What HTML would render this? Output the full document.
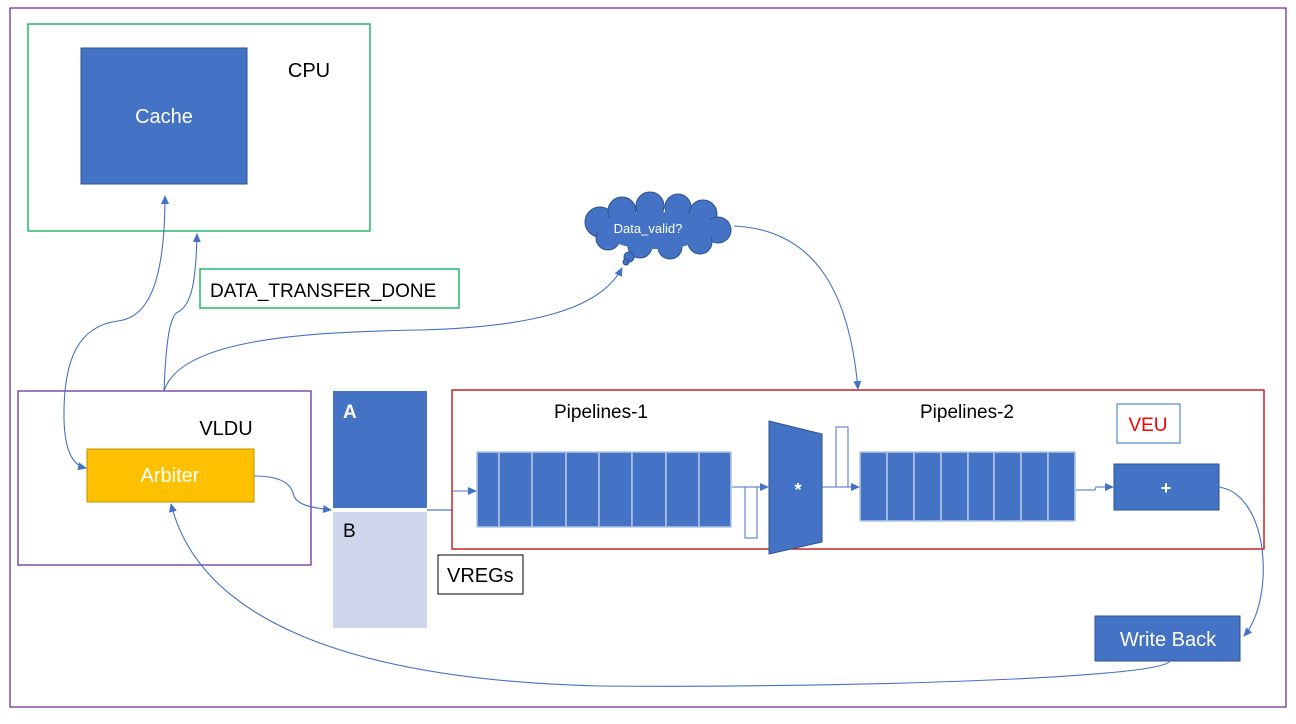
<!DOCTYPE html>
<html><head><meta charset="utf-8"><style>
html,body{margin:0;padding:0;background:#fff;width:1296px;height:724px;overflow:hidden}
svg text{font-family:"Liberation Sans",sans-serif}
</style></head><body>
<svg width="1296" height="724" viewBox="0 0 1296 724" xmlns="http://www.w3.org/2000/svg">
<defs>
<marker id="ar" markerWidth="10" markerHeight="10" refX="8" refY="4" orient="auto-start-reverse" markerUnits="userSpaceOnUse">
<path d="M0,0 L9,4 L0,8 z" fill="#4472c4"/></marker>
</defs>
<rect x="10" y="8" width="1276" height="699" fill="none" stroke="#7030a0" stroke-width="1.3"/>
<!-- CPU -->
<rect x="28" y="24" width="342" height="207" fill="none" stroke="#00b050" stroke-width="1.3"/>
<rect x="81" y="48" width="166" height="136" fill="#4472c4" stroke="#2f528f"/>
<text x="164" y="123" font-size="20" fill="#fff" text-anchor="middle">Cache</text>
<text x="309" y="77" font-size="20" fill="#000" text-anchor="middle">CPU</text>
<rect x="200" y="269" width="259" height="39" fill="none" stroke="#00b050" stroke-width="1.3"/>
<text x="210" y="297" font-size="19" fill="#000">DATA_TRANSFER_DONE</text>
<!-- cloud -->
<g fill="#4472c4" stroke="#2f528f">
<circle cx="600" cy="222" r="15"/>
<circle cx="622" cy="211" r="14"/>
<circle cx="650" cy="206" r="14"/>
<circle cx="678" cy="207" r="13"/>
<circle cx="703" cy="214" r="14"/>
<circle cx="718" cy="230" r="13"/>
<circle cx="700" cy="242" r="12"/>
<circle cx="670" cy="247" r="12"/>
<circle cx="640" cy="246" r="12"/>
<circle cx="608" cy="238" r="12"/>
<circle cx="629" cy="257" r="5"/><circle cx="626" cy="262" r="3"/>
</g>
<ellipse cx="658" cy="228" rx="62" ry="16" fill="#4472c4"/>
<ellipse cx="655" cy="240" rx="40" ry="9" fill="#4472c4"/>
<text x="648" y="233" font-size="13" fill="#fff" text-anchor="middle">Data_valid?</text>
<!-- VLDU -->
<rect x="18" y="391" width="293" height="174" fill="none" stroke="#7030a0" stroke-width="1.3"/>
<text x="226" y="435" font-size="20" fill="#000" text-anchor="middle">VLDU</text>
<rect x="87" y="449" width="167" height="53" fill="#ffc000" stroke="#bf9000"/>
<text x="170" y="482" font-size="20" fill="#fff" text-anchor="middle">Arbiter</text>
<!-- VREGs -->
<rect x="333" y="391" width="94" height="117" fill="#4472c4"/>
<text x="343" y="418" font-size="19" font-weight="bold" fill="#fff">A</text>
<rect x="333" y="512" width="94" height="116" fill="#cfd5ea"/>
<text x="343" y="537" font-size="19" fill="#000">B</text>
<rect x="438" y="555" width="85" height="39" fill="#fff" stroke="#000"/>
<text x="447" y="582" font-size="20" fill="#000">VREGs</text>
<line x1="427" y1="510" x2="452" y2="510" stroke="#8faadc" stroke-width="2"/>
<!-- VEU -->
<rect x="452" y="390" width="812" height="159" fill="none" stroke="#c00000" stroke-width="1.3"/>
<text x="601" y="418" font-size="19" fill="#000" text-anchor="middle">Pipelines-1</text>
<text x="967" y="418" font-size="19" fill="#000" text-anchor="middle">Pipelines-2</text>
<rect x="1117" y="404" width="63" height="39" fill="#fff" stroke="#2e75b6"/>
<text x="1148" y="431" font-size="19" fill="#f00" text-anchor="middle">VEU</text>
<g fill="#4472c4" stroke="#b4c7e7" stroke-width="1.5">
<rect x="477" y="452" width="22" height="75"/><rect x="499" y="452" width="33" height="75"/><rect x="532" y="452" width="34" height="75"/><rect x="566" y="452" width="33" height="75"/><rect x="599" y="452" width="33" height="75"/><rect x="632" y="452" width="34" height="75"/><rect x="666" y="452" width="33" height="75"/><rect x="699" y="452" width="32" height="75"/>
<rect x="860" y="452" width="27" height="69"/><rect x="887" y="452" width="27" height="69"/><rect x="914" y="452" width="27" height="69"/><rect x="941" y="452" width="27" height="69"/><rect x="968" y="452" width="26" height="69"/><rect x="994" y="452" width="27" height="69"/><rect x="1021" y="452" width="27" height="69"/><rect x="1048" y="452" width="27" height="69"/>
</g>
<path d="M452,491 L476,491" stroke="#4472c4" fill="none" marker-end="url(#ar)"/>
<rect x="745" y="487" width="12" height="51" fill="#fff" stroke="#4472c4"/>
<path d="M732,487 L768,487" stroke="#4472c4" fill="none" marker-end="url(#ar)"/>
<polygon points="769,421 822,434 822,542 769,554" fill="#4472c4" stroke="#2f528f"/>
<text x="798" y="496" font-size="18" font-weight="bold" fill="#fff" text-anchor="middle">*</text>
<rect x="836" y="427" width="12" height="60" fill="#fff" stroke="#4472c4"/>
<path d="M822,487 L859,487" stroke="#4472c4" fill="none" marker-end="url(#ar)"/>
<path d="M1076,490 L1095,490 L1096,487 L1113,487" stroke="#4472c4" fill="none" marker-end="url(#ar)"/>
<rect x="1114" y="464" width="105" height="46" fill="#4472c4" stroke="#2f528f"/>
<text x="1166" y="494" font-size="18" font-weight="bold" fill="#fff" text-anchor="middle">+</text>
<rect x="1095" y="616" width="145" height="45" fill="#4472c4" stroke="#2f528f"/>
<text x="1168" y="646" font-size="20" fill="#fff" text-anchor="middle">Write Back</text>
<!-- connectors -->
<g stroke="#4472c4" fill="none" stroke-width="1.1">
<path d="M165,196 C165,300 140,318 118,321 C78,326 63,360 64,420 C65,450 72,465 86,468" marker-start="url(#ar)" marker-end="url(#ar)"/>
<path d="M164,391 C166,340 170,315 178,312 C192,305 196,280 197,234" marker-end="url(#ar)"/>
<path d="M164,391 C180,340 300,332 420,330 C530,327 600,310 622,268" marker-end="url(#ar)"/>
<path d="M734,226 C820,230 850,300 858,389" marker-end="url(#ar)"/>
<path d="M254,476 C290,476 292,490 294,496 C298,506 315,508 331,510" marker-end="url(#ar)"/>
<path d="M1219,487 C1270,495 1275,600 1244,636" marker-end="url(#ar)"/>
<path d="M1170,661 C1160,680 800,688 600,686 C350,680 200,620 171,504" marker-end="url(#ar)"/>
</g>
</svg>
</body></html>
